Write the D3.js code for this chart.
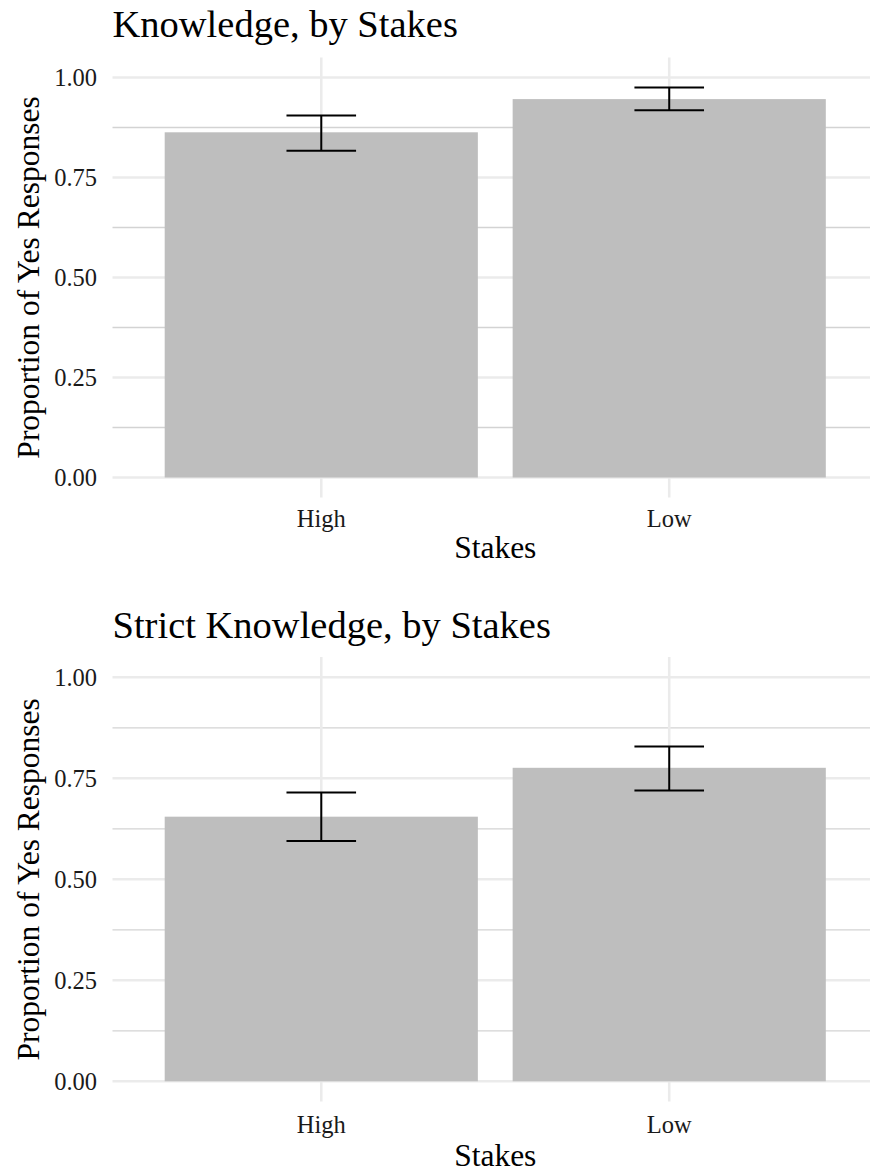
<!DOCTYPE html>
<html>
<head>
<meta charset="utf-8">
<script src="https://cdn.jsdelivr.net/npm/d3@7"></script>
<style>
  html, body { margin: 0; padding: 0; background: #ffffff; }
  svg { display: block; }
  text { font-family: "Liberation Serif", "Times New Roman", serif; }
</style>
</head>
<body>
<svg id="chart" width="870" height="1172"></svg>
<script>
// Stakes conditions on the x axis
const stakes = ["High", "Low"];

// Knowledge: proportion of "yes" responses with interval bounds
const knowledgeProp  = [0.863, 0.946];
const knowledgeLower = [0.817, 0.918];
const knowledgeUpper = [0.905, 0.975];

// Strict knowledge: proportion of "yes" responses with interval bounds
const strictProp  = [0.655, 0.776];
const strictLower = [0.595, 0.720];
const strictUpper = [0.715, 0.829];

// Axis ticks
const yTicks = [0, 0.25, 0.5, 0.75, 1];
const yTickLabels = ["0.00", "0.25", "0.50", "0.75", "1.00"];
const yMinorTicks = [0.125, 0.375, 0.625, 0.875];

const panels = [
  { title: "Knowledge, by Stakes", prop: knowledgeProp, lower: knowledgeLower, upper: knowledgeUpper,
    top: 57.5, bottom: 497.5, titleY: 37, tickY: 527, axisTitleY: 558 },
  { title: "Strict Knowledge, by Stakes", prop: strictProp, lower: strictLower, upper: strictUpper,
    top: 657.1, bottom: 1101.5, titleY: 638, tickY: 1133, axisTitleY: 1166 }
];

const svg = d3.select("#chart");
const left = 112.5, right = 878;

// discrete positions 1..n with 0.6 expansion on each side
const x = d3.scaleLinear().domain([0.4, stakes.length + 0.6]).range([left, right]);

panels.forEach(p => {
  const y = d3.scaleLinear().domain([-0.05, 1.05]).range([p.bottom, p.top]);
  const g = svg.append("g");
  const rows = stakes.map((s, i) => ({ s, i: i + 1, v: p.prop[i], lo: p.lower[i], hi: p.upper[i] }));

  // minor horizontal grid
  g.selectAll(".minor").data(yMinorTicks).join("line")
    .attr("x1", left).attr("x2", right)
    .attr("y1", d => y(d)).attr("y2", d => y(d))
    .attr("stroke", "#d3d3d3").attr("stroke-width", 1.3);

  // major horizontal grid
  g.selectAll(".major").data(yTicks).join("line")
    .attr("x1", left).attr("x2", right)
    .attr("y1", d => y(d)).attr("y2", d => y(d))
    .attr("stroke", "#ebebeb").attr("stroke-width", 2.6);

  // vertical grid at category positions
  g.selectAll(".vgrid").data(rows).join("line")
    .attr("x1", d => x(d.i)).attr("x2", d => x(d.i))
    .attr("y1", p.top).attr("y2", p.bottom)
    .attr("stroke", "#ebebeb").attr("stroke-width", 2.6);

  // bars
  g.selectAll(".bar").data(rows).join("rect")
    .attr("x", d => x(d.i - 0.45))
    .attr("width", d => x(d.i + 0.45) - x(d.i - 0.45))
    .attr("y", d => y(d.v))
    .attr("height", d => y(0) - y(d.v))
    .attr("fill", "#bebebe");

  // error bars
  const eb = g.selectAll(".eb").data(rows).join("g")
    .attr("stroke", "#000").attr("stroke-width", 2).attr("fill", "none");
  eb.append("line")
    .attr("x1", d => x(d.i)).attr("x2", d => x(d.i))
    .attr("y1", d => y(d.lo)).attr("y2", d => y(d.hi));
  eb.append("line")
    .attr("x1", d => x(d.i - 0.1)).attr("x2", d => x(d.i + 0.1))
    .attr("y1", d => y(d.hi)).attr("y2", d => y(d.hi));
  eb.append("line")
    .attr("x1", d => x(d.i - 0.1)).attr("x2", d => x(d.i + 0.1))
    .attr("y1", d => y(d.lo)).attr("y2", d => y(d.lo));

  // y tick labels
  g.selectAll(".ylab").data(yTicks).join("text")
    .attr("x", 97).attr("y", d => y(d))
    .attr("dy", "0.35em")
    .attr("text-anchor", "end")
    .attr("font-size", 24.5)
    .attr("fill", "#1a1a1a")
    .text((d, i) => yTickLabels[i]);

  // x tick labels
  g.selectAll(".xlab").data(rows).join("text")
    .attr("x", d => x(d.i)).attr("y", p.tickY)
    .attr("text-anchor", "middle")
    .attr("font-size", 24.5)
    .attr("fill", "#1a1a1a")
    .text(d => d.s);

  // axis titles
  g.append("text")
    .attr("x", (left + 870) / 2 + 4).attr("y", p.axisTitleY)
    .attr("text-anchor", "middle")
    .attr("font-size", 31.5)
    .attr("fill", "#000")
    .text("Stakes");

  g.append("text")
    .attr("transform", `translate(39,${(p.top + p.bottom) / 2}) rotate(-90)`)
    .attr("text-anchor", "middle")
    .attr("font-size", 31.5)
    .attr("fill", "#000")
    .text("Proportion of Yes Responses");

  // panel title
  g.append("text")
    .attr("x", left).attr("y", p.titleY)
    .attr("font-size", 38.5)
    .attr("fill", "#000")
    .text(p.title);
});
</script>
</body>
</html>
